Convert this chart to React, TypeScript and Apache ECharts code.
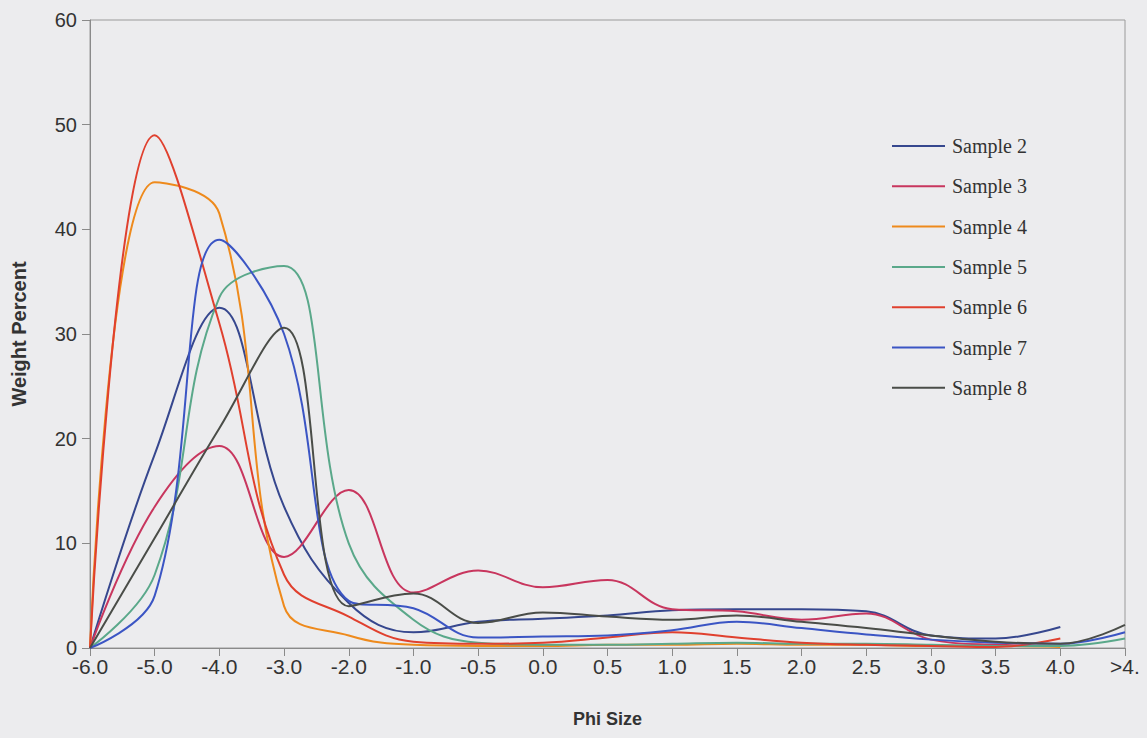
import React, { useEffect, useRef } from "react";
import * as echarts from "echarts";

const categories = ["-6.0", "-5.0", "-4.0", "-3.0", "-2.0", "-1.0", "-0.5", "0.0", "0.5", "1.0", "1.5", "2.0", "2.5", "3.0", "3.5", "4.0", ">4."];

const seriesNames = ["Sample 2", "Sample 3", "Sample 4", "Sample 5", "Sample 6", "Sample 7", "Sample 8"];

const sample2 = [0, 18.5, 32.5, 13.5, 4.3, 1.5, 2.5, 2.8, 3.1, 3.6, 3.7, 3.7, 3.5, 1.2, 0.9, 2.0, null];
const sample3 = [0, 13.5, 19.3, 8.7, 15.1, 5.3, 7.4, 5.8, 6.5, 3.7, 3.5, 2.7, 3.3, 0.8, 0.3, 0.2, null];
const sample4 = [0, 44.5, 41.5, 4.0, 1.2, 0.3, 0.2, 0.2, 0.3, 0.3, 0.4, 0.3, 0.3, 0.2, 0.2, 0.1, null];
const sample5 = [0, 7.0, 33.5, 36.5, 10.0, 2.7, 0.5, 0.3, 0.3, 0.4, 0.5, 0.4, 0.4, 0.3, 0.2, 0.2, 0.9];
const sample6 = [0, 49.0, 31.0, 7.0, 3.0, 0.6, 0.4, 0.5, 1.0, 1.5, 1.0, 0.5, 0.3, 0.2, 0.1, 0.9, null];
const sample7 = [0, 5.0, 39.0, 30.0, 4.5, 3.8, 1.0, 1.1, 1.2, 1.7, 2.5, 1.9, 1.3, 0.8, 0.5, 0.4, 1.5];
const sample8 = [0, 10.5, 21.0, 30.6, 4.0, 5.2, 2.4, 3.4, 3.0, 2.7, 3.1, 2.5, 1.9, 1.2, 0.6, 0.4, 2.2];

const seriesData = [sample2, sample3, sample4, sample5, sample6, sample7, sample8];
const seriesColors = ["#36478e", "#c8365e", "#ee8a1c", "#5aa88a", "#e0402e", "#3b55c4", "#4a4d48"];

export default function App() {
  const ref = useRef<HTMLDivElement>(null);
  useEffect(() => {
    if (!ref.current) return;
    const chart = echarts.init(ref.current, undefined, { renderer: "svg" });
    const axisGray = "#8a8a8a";
    chart.setOption({
      animation: false,
      backgroundColor: "#ececee",
      grid: {
        left: 90,
        right: 22,
        top: 20,
        bottom: 90,
        show: true,
        borderColor: "#9a9a9a",
        borderWidth: 1,
        backgroundColor: "transparent",
      },
      legend: {
        orient: "vertical",
        left: 887,
        top: 131,
        icon: "rect",
        itemWidth: 53,
        itemHeight: 2,
        itemGap: 20.3,
        data: seriesNames,
        textStyle: {
          fontFamily: "Liberation Serif",
          fontSize: 20,
          lineHeight: 20,
          color: "#333",
          padding: [0, 0, 0, 2],
        },
      },
      xAxis: {
        type: "category",
        data: categories,
        boundaryGap: false,
        name: "Phi Size",
        nameLocation: "middle",
        nameGap: 62,
        nameTextStyle: {
          fontFamily: "Liberation Sans",
          fontWeight: "bold",
          fontSize: 18,
          color: "#333",
        },
        axisLine: { lineStyle: { color: axisGray, width: 1 } },
        axisTick: { show: true, length: 8, lineStyle: { color: axisGray } },
        axisLabel: {
          fontFamily: "Liberation Sans",
          fontSize: 21,
          color: "#333",
          margin: 8,
          interval: 0,
        },
        splitLine: { show: false },
      },
      yAxis: {
        type: "value",
        min: 0,
        max: 60,
        interval: 10,
        name: "Weight Percent",
        nameLocation: "middle",
        nameGap: 61,
        nameTextStyle: {
          fontFamily: "Liberation Sans",
          fontWeight: "bold",
          fontSize: 20,
          color: "#333",
        },
        axisLine: { show: true, lineStyle: { color: axisGray, width: 1 } },
        axisTick: { show: true, length: 8, lineStyle: { color: axisGray } },
        axisLabel: {
          fontFamily: "Liberation Sans",
          fontSize: 20,
          color: "#333",
          margin: 13,
        },
        splitLine: { show: false },
      },
      series: seriesNames.map((name, i) => ({
        name,
        type: "line",
        data: seriesData[i],
        smooth: 0.4,
        symbol: "none",
        showSymbol: false,
        connectNulls: false,
        color: seriesColors[i],
        lineStyle: { width: 2, color: seriesColors[i] },
      })),
    });
    return () => chart.dispose();
  }, []);
  return (
    <div
      ref={ref}
      style={{ position: "fixed", left: 0, top: 0, width: 1147, height: 738 }}
    />
  );
}
